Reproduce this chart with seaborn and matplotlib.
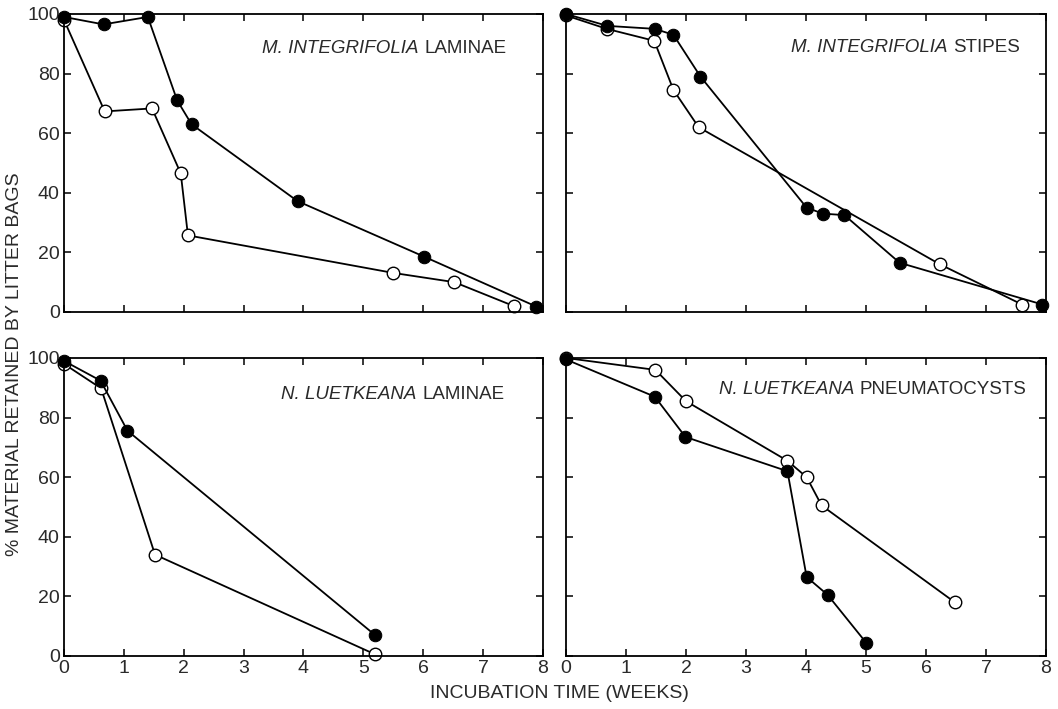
import matplotlib
matplotlib.use("Agg")
import matplotlib.pyplot as plt
import seaborn as sns

# panel titles (italic genus part, plain tissue part)
titles_it = ["M. INTEGRIFOLIA", "M. INTEGRIFOLIA", "N. LUETKEANA", "N. LUETKEANA"]
titles_rm = ["LAMINAE", "STIPES", "LAMINAE", "PNEUMATOCYSTS"]

# filled circles
fill_x = [
    [0, 0.66, 1.4, 1.89, 2.13, 3.9, 6.01, 7.89],
    [0, 0.69, 1.48, 1.79, 2.24, 4.01, 4.28, 4.64, 5.56, 7.94],
    [0, 0.61, 1.06, 5.19],
    [0, 1.48, 1.99, 3.69, 4.01, 4.36, 5.0],
]
fill_y = [
    [99, 96.5, 99, 71, 63, 37.2, 18.6, 1.8],
    [100, 96, 95, 93, 79, 35, 33, 32.5, 16.5, 2.5],
    [99, 92.4, 75.6, 7.1],
    [99.5, 87, 73.5, 62, 26.5, 20.5, 4.5],
]
# open circles
open_x = [
    [0, 0.68, 1.47, 1.95, 2.07, 5.5, 6.52, 7.51],
    [0, 0.68, 1.47, 1.79, 2.21, 6.23, 7.6],
    [0, 0.62, 1.52, 5.2],
    [0, 1.49, 2.0, 3.69, 4.01, 4.26, 6.48],
]
open_y = [
    [98, 67.3, 68.3, 46.5, 25.7, 13.1, 10, 2],
    [99.5, 95, 91, 74.5, 62, 16, 2.5],
    [98, 89.8, 34, 0.5],
    [100, 96, 85.5, 65.5, 60, 50.5, 18],
]
x_ticks = [0, 1, 2, 3, 4, 5, 6, 7, 8]
y_ticks = [0, 20, 40, 60, 80, 100]
# where the panel title ends (axes fraction)
title_pos = [(0.924, 0.885), (0.946, 0.888), (0.919, 0.876), (0.96, 0.894)]

sns.set_style("ticks")
plt.rcParams["font.family"] = ["Liberation Sans", "DejaVu Sans"]
txt_col = "#2a2a2a"

fig = plt.figure(figsize=(10.58, 7.09), dpi=100)
boxes = [
    [0.0605, 0.560, 0.4527, 0.4203],
    [0.535, 0.560, 0.4537, 0.4203],
    [0.0605, 0.0748, 0.4527, 0.4203],
    [0.535, 0.0748, 0.4537, 0.4203],
]

for i in range(4):
    ax = fig.add_axes(boxes[i])
    sns.lineplot(x=open_x[i], y=open_y[i], ax=ax, color="black", lw=1.3,
                 marker="o", markersize=9, markerfacecolor="white",
                 markeredgecolor="black", markeredgewidth=1.0,
                 sort=False, estimator=None, clip_on=False)
    sns.lineplot(x=fill_x[i], y=fill_y[i], ax=ax, color="black", lw=1.3,
                 marker="o", markersize=9, markerfacecolor="black",
                 markeredgecolor="black", sort=False, estimator=None, clip_on=False)
    ax.set_xlim(0, 8)
    ax.set_ylim(0, 100)
    ax.set_xticks(x_ticks)
    ax.set_yticks(y_ticks)
    ax.tick_params(direction="in", length=5, width=1.1, top=True, right=True,
                   labelsize=14, colors="black", labelcolor=txt_col, pad=3)
    for s in ax.spines.values():
        s.set_visible(True)
        s.set_linewidth(1.3)
        s.set_color("black")
    if i < 2:
        ax.set_xticklabels([])
    if i % 2 == 1:
        ax.set_yticklabels([])

    tx, ty = title_pos[i]
    t1 = ax.text(tx, ty, titles_rm[i], transform=ax.transAxes, ha="right",
                 va="center", fontsize=13.5, color=txt_col)
    ax.annotate(titles_it[i], xy=(0, 0), xycoords=t1, xytext=(-4, 0),
                textcoords="offset points", ha="right", va="bottom",
                fontsize=13.5, style="italic", color=txt_col)

fig.text(0.014, 0.487, "% MATERIAL RETAINED BY LITTER BAGS", rotation=90,
         ha="center", va="center", fontsize=14, color=txt_col)
fig.text(0.529, 0.022, "INCUBATION TIME (WEEKS)", ha="center", va="center",
         fontsize=14, color=txt_col)

fig.savefig("out.png", dpi=100)
